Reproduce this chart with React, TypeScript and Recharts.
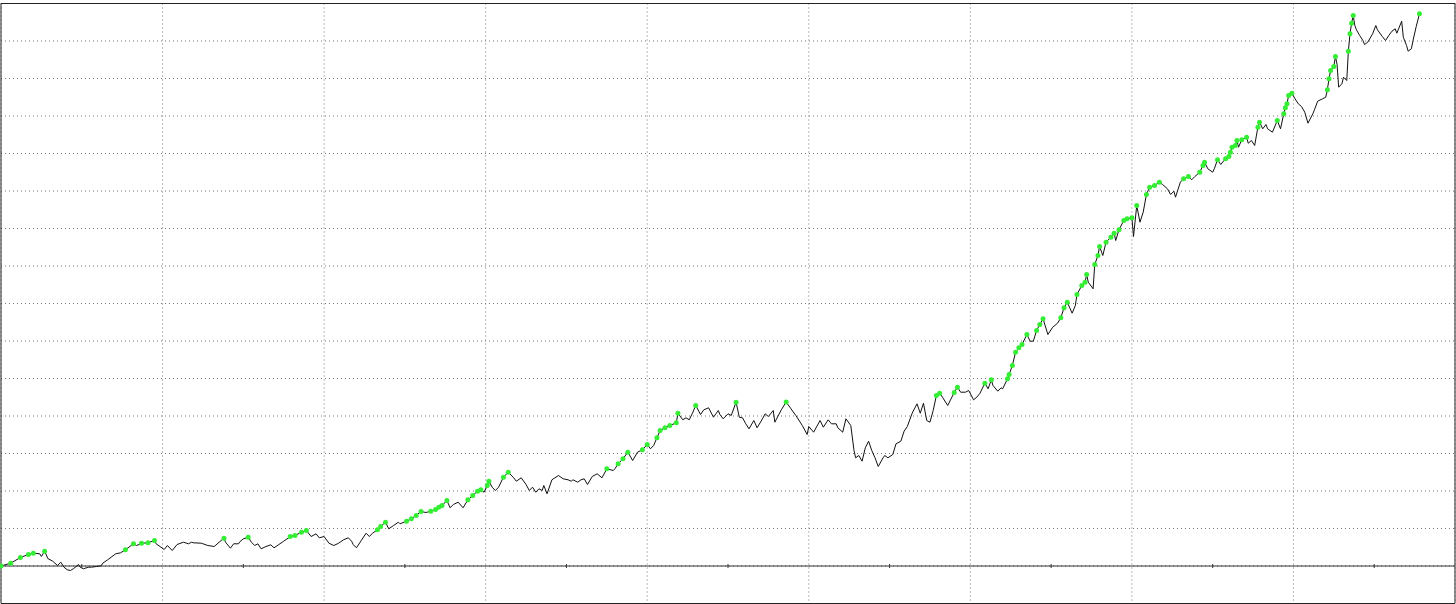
import {
  ComposedChart,
  Line,
  Scatter,
  XAxis,
  YAxis,
  CartesianGrid,
  ReferenceLine,
  ReferenceArea,
} from 'recharts'

// trade number / account balance
const TRADES = [
  0, 6, 12, 17, 20, 24, 25, 27, 29, 32, 35, 37, 39, 41, 43, 45, 48, 49, 51, 54, 56, 59, 62, 63, 66, 71, 74, 77, 82, 84,
  87, 91, 95, 96, 99, 101, 103, 106, 109, 113, 116, 118, 119, 124, 128, 132, 135, 138, 139, 142, 144, 147, 148,
  150, 153, 155, 157, 159, 161, 164, 167, 169, 172, 175, 178, 179, 182, 186, 189, 192, 195, 197, 200, 203, 206, 209,
  212, 215, 217, 218, 220, 223, 226, 228, 230, 233, 235, 238, 240, 243, 246, 247, 251, 254, 257, 260, 263, 266, 269,
  271, 273, 276, 278, 280, 283, 286, 289, 292, 295,
  297, 299, 301, 302, 304, 306, 308, 311, 314, 317, 319, 322, 325, 327, 329, 331, 333, 335, 336, 338, 341, 345, 348,
  351, 353, 354, 357, 359, 361, 363, 366, 369, 372, 375, 379, 380, 382, 385, 388, 391, 394, 397, 400, 402, 404, 406,
  408, 411, 414, 418, 419, 422, 424, 426, 428, 430, 433, 435, 438, 441, 444, 445,
  447, 450, 452, 455, 457, 459, 461, 463, 466, 468, 471, 473, 475, 478, 479, 483, 486, 489, 492, 496, 499, 500, 503,
  507, 509, 512, 514, 517, 518, 521, 523, 526, 528, 529, 531, 533, 535, 537, 539, 541, 543, 546, 547, 549, 552, 554,
  557, 559, 561, 564, 567, 569, 571, 573, 575, 577, 579, 581, 583, 586, 590, 592, 594,
  597, 599, 602, 604, 606, 609, 611, 613, 614, 617, 619, 620, 623, 624, 626, 628, 630, 632, 635, 637, 639, 641, 643,
  645, 648, 651, 654, 656, 658, 660, 663, 665, 666, 669, 671, 672, 673, 676, 677, 679, 680, 682, 684, 687, 689, 690,
  692, 695, 697, 700, 701, 703, 705, 707, 709, 711, 714, 717, 719, 722, 724, 726, 727, 730, 732, 735, 737, 739, 742,
  744, 745, 747, 750, 751, 753, 755, 757, 758, 760, 761, 762, 764, 765, 766, 768, 771, 772, 774, 776, 778, 779, 781,
  783, 784, 787, 790, 792, 794, 795, 796, 797, 799, 801, 803, 805, 807, 809, 812, 813, 815, 818, 820, 821, 822, 823,
  825, 826, 827, 828, 830, 831, 833, 834, 835, 836, 837, 838, 839, 841, 843, 844, 846, 849, 851, 852, 855, 857, 859,
  861, 863, 864, 867, 868, 870, 871, 873, 874, 876, 878,
]

const BALANCE = [
  0, 56, 170, 230, 256, 244, 190, 296, 150, 96, 10, 76, -24, -76, -90, -50, 30, -24, -56, -24, -24, -10, 4, 56, 124,
  244, 264, 324, 444, 410, 456, 464, 510, 444, 376, 330, 410, 310, 430, 476, 444, 476, 464, 456, 410, 390, 476, 556,
  476, 356, 444, 444, 490,
  544, 576, 476, 410, 444, 344, 390, 424, 364, 430, 496, 564, 590, 610, 676, 710, 590, 644, 564, 590, 456, 410, 456,
  524, 564, 496, 430, 364, 510, 656, 590, 656, 724, 790, 876, 744, 810, 876, 844, 896, 944, 1010, 1090, 1070, 1096,
  1130, 1176, 1210, 1310, 1164, 1230, 1276, 1164, 1324, 1410, 1496,
  1524, 1476, 1610, 1696, 1576, 1510, 1576, 1776, 1876, 1776, 1696, 1764, 1630, 1510, 1576, 1476, 1544, 1510, 1610,
  1444, 1724, 1810, 1744, 1724, 1696, 1724, 1676, 1724, 1744, 1630, 1790, 1844, 1764, 1944, 1910, 1944, 2044, 2144,
  2276, 2110, 2276, 2324, 2430, 2344, 2410, 2564, 2710, 2764, 2810, 2864, 3056, 2924, 2964, 2924, 3056, 3210, 3030,
  3124, 3164, 2976, 3110, 3030,
  2944, 3044, 3010, 3276, 2976, 2964, 2844, 2744, 2910, 2764, 2924, 3044, 2990, 3110, 2876, 3124, 3280, 3144, 3010,
  2810, 2630, 2790, 2676, 2910, 2776, 2924, 2844, 2844, 2764, 2676, 2944, 2810, 2310, 2164, 2210, 2096, 2364, 2496,
  2310, 2164, 1990, 2164, 2210, 2164, 2230, 2444, 2496, 2696, 2790, 3056, 3244, 3056, 3256, 2910, 2876, 3110, 3410,
  3456, 3364, 3210, 3470, 3576, 3476,
  3476, 3510, 3324, 3376, 3456, 3656, 3544, 3724, 3610, 3496, 3564, 3544, 3744, 3830, 4010, 4276, 4364, 4430, 4630,
  4496, 4496, 4710, 4830, 4944, 4630, 4776, 4856, 4964, 5164, 5276, 5056, 5210, 5430, 5610, 5676, 5830, 5676, 5544,
  6030, 6210, 6390, 6210, 6476, 6576, 6656, 6510, 6724, 6910, 6944, 6964, 6590, 7210, 6876, 7076, 7430, 7576, 7610,
  7676, 7630, 7544, 7430, 7496, 7376, 7676, 7744, 7790, 7724, 7790, 7876,
  8010, 8076, 7944, 7876, 7944, 8124, 8030, 8110, 8144, 8190, 8276, 8376, 8410, 8510, 8376, 8524, 8576, 8456, 8510,
  8410, 8776, 8876, 8744, 8830, 8744, 8676, 8910, 8744, 9044, 9164, 9244, 9410, 9456, 9344, 9244, 9190, 9076, 8856,
  9044, 9124, 9296, 9344, 9376, 9524, 9744, 9910, 9990, 10190, 10030, 9576, 9644, 9776, 9710, 10296, 10644, 10856,
  11010, 10810, 10724, 10610, 10510, 10430, 10476, 10644, 10810, 10724, 10590, 10510, 10610, 10696, 10744, 10656,
  10896, 10576, 10410, 10296, 10344, 10510, 10790, 11044,
]

const X_TICKS = [0, 100, 200, 300, 400, 500, 600, 700, 800, 900]
const X_MINOR = [50, 150, 250, 350, 450, 550, 650, 750, 850]
const Y_TICKS = [
  -750, 0, 750, 1500, 2250, 3000, 3750, 4500, 5250, 6000, 6750, 7500, 8250, 9000, 9750, 10500, 11250,
]
const Y_MINOR = [
  -375, 375, 1125, 1875, 2625, 3375, 4125, 4875, 5625, 6375, 7125, 7875, 8625, 9375, 10125, 10875,
]

// flag every new equity high
let peak = -Infinity
const data = TRADES.map((trade, i) => {
  const balance = BALANCE[i]
  const high = balance > peak
  peak = Math.max(peak, balance)
  return { trade, balance, high }
})

const minorX = X_MINOR.map((trade) => ({ trade, balance: 0 }))

const renderDot = (p: any) => {
  if (!p.payload || !p.payload.high) return <g key={`d${p.index}`} />
  return <circle key={`d${p.index}`} cx={p.cx} cy={p.cy} r={2.5} fill="#33ee33" stroke="none" />
}

const renderTick = (p: any) => (
  <line x1={p.cx} x2={p.cx} y1={p.cy - 2} y2={p.cy + 2} stroke="#333" strokeWidth={1} />
)

export default function App() {
  return (
    <div style={{ position: 'absolute', left: 0, top: 0, width: 1456, height: 604, background: '#fff' }}>
      <ComposedChart
        width={1456}
        height={604}
        data={data}
        margin={{ top: 3.5, right: 1, bottom: 0.5, left: 1 }}
      >
        <XAxis
          dataKey="trade"
          type="number"
          domain={[0, 900]}
          ticks={X_TICKS}
          hide
        />
        <YAxis yAxisId={0} type="number" domain={[-750, 11250]} ticks={Y_TICKS} hide />
        <YAxis
          yAxisId="minor"
          type="number"
          domain={[-750, 11250]}
          ticks={Y_MINOR}
          mirror
          width={0}
          tickSize={3}
          tickFormatter={() => ''}
          tickLine={{ stroke: '#555' }}
          axisLine={{ stroke: '#888', strokeWidth: 2 }}
        />
        <CartesianGrid stroke="#777" strokeDasharray="1 3" />
        <ReferenceArea
          x1={0}
          x2={900}
          y1={-750}
          y2={11250}
          fill="none"
          stroke="#222"
          strokeWidth={1}
        />
        <ReferenceLine y={0} stroke="#333" strokeWidth={1} />
        <Scatter data={minorX} dataKey="balance" shape={renderTick} isAnimationActive={false} />
        <Line
          type="linear"
          dataKey="balance"
          stroke="#111"
          strokeWidth={1}
          dot={renderDot}
          activeDot={false}
          isAnimationActive={false}
        />
      </ComposedChart>
    </div>
  )
}
